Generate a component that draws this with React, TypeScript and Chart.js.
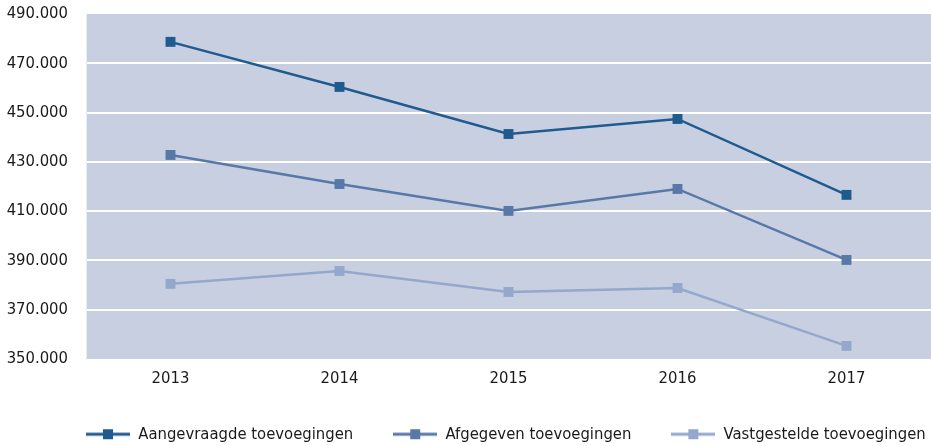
import React, { useEffect, useRef } from "react";
import { Chart, registerables } from "chart.js";

Chart.register(...registerables);

const years = ["2013", "2014", "2015", "2016", "2017"];
const aangevraagd = [478700, 460400, 441300, 447400, 416600];
const afgegeven = [432800, 421000, 410100, 419000, 390200];
const vastgesteld = [380500, 385700, 377200, 378800, 355300];
const seriesNames = ["Aangevraagde toevoegingen", "Afgegeven toevoegingen", "Vastgestelde toevoegingen"];
const colors = ["#1F5B8F", "#5878A8", "#93A8CC"];

const FONT = "'DejaVu Sans Condensed', 'DejaVu Sans', sans-serif";
const FS = 16.5;

function legendIcon(color: string) {
  const c = document.createElement("canvas");
  c.width = 44;
  c.height = 12;
  const ctx = c.getContext("2d")!;
  ctx.strokeStyle = color;
  ctx.lineWidth = 3;
  ctx.beginPath();
  ctx.moveTo(0, 6);
  ctx.lineTo(44, 6);
  ctx.stroke();
  ctx.fillStyle = color;
  ctx.fillRect(17, 1, 10, 10);
  return c;
}

const bgPlugin = {
  id: "plotBg",
  afterLayout(chart: any) {
    if (chart.legend) {
      chart.legend.top = 386;
      chart.legend.left = 46;
      chart.legend.right = 1200;
    }
  },
  beforeDraw(chart: any) {
    const { ctx, chartArea } = chart;
    ctx.save();
    ctx.fillStyle = "#C8CFE1";
    ctx.fillRect(chartArea.left, chartArea.top, chartArea.right - chartArea.left, chartArea.bottom - chartArea.top);
    ctx.restore();
  },
};

export default function App() {
  const ref = useRef<HTMLCanvasElement>(null);
  useEffect(() => {
    const data = [aangevraagd, afgegeven, vastgesteld];
    const chart = new Chart(ref.current!, {
      type: "line",
      data: {
        labels: years,
        datasets: data.map((d, i) => ({
          label: seriesNames[i],
          data: d,
          borderColor: colors[i],
          backgroundColor: colors[i],
          borderWidth: 2.5,
          pointStyle: "rect",
          pointRadius: 7,
          pointBorderWidth: 0,
          tension: 0,
          clip: 10,
        })),
      },
      options: {
        animation: false,
        responsive: false,
        devicePixelRatio: 1,
        layout: { autoPadding: false, padding: { left: 0, right: 1, top: 14, bottom: 0 } },
        plugins: {
          tooltip: { enabled: false },
          legend: {
            position: "bottom",
            align: "start",
            maxHeight: 40,
            labels: {
              usePointStyle: true,
              pointStyleWidth: 44,
              padding: 40,
              color: "#1a1a1a",
              font: { family: FONT, size: FS },
              generateLabels: (chart: any) =>
                chart.data.datasets.map((ds: any, i: number) => ({
                  text: ds.label,
                  pointStyle: legendIcon(colors[i]),
                  fillStyle: colors[i],
                  strokeStyle: colors[i],
                  lineWidth: 0,
                  hidden: false,
                  datasetIndex: i,
                  fontColor: "#1a1a1a",
                })),
            },
          },
        },
        scales: {
          x: {
            offset: true,
            grid: { display: false },
            border: { display: false },
            ticks: { color: "#1a1a1a", font: { family: FONT, size: FS }, padding: 2 },
            afterFit: (s: any) => {
              s.height = 47;
            },
          },
          y: {
            min: 350000,
            max: 490000,
            grid: {
              color: (c: any) => (c.tick && (c.tick.value === 350000 || c.tick.value === 490000) ? "rgba(0,0,0,0)" : "#FFFFFF"),
              lineWidth: 2,
              drawTicks: false,
            },
            border: { display: true, color: "#E8ECF3", width: 1 },
            ticks: {
              stepSize: 20000,
              color: "#1a1a1a",
              font: { family: FONT, size: FS },
              padding: 18,
              callback: (v: any) => Number(v).toLocaleString("de-DE", { minimumFractionDigits: 0 }).replace(/,/g, "."),
            },
            afterFit: (s: any) => {
              s.width = 86;
              s.paddingTop = 0;
              s.paddingBottom = 0;
            },
          },
        },
      },
      plugins: [bgPlugin],
    });
    return () => chart.destroy();
  }, []);
  return (
    <div style={{ position: "fixed", left: 0, top: 0, width: 932, height: 446, background: "#fff" }}>
      <canvas ref={ref} width={932} height={446} style={{ display: "block" }} />
    </div>
  );
}
